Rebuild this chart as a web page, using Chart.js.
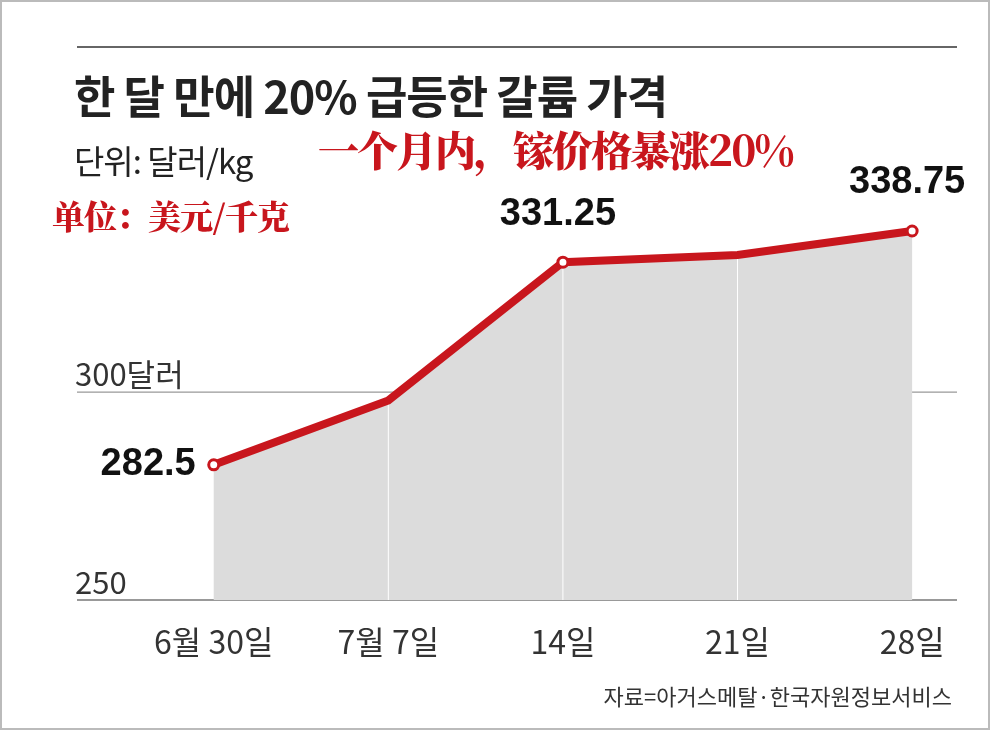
<!DOCTYPE html>
<html><head><meta charset="utf-8">
<script src="https://cdn.jsdelivr.net/npm/chart.js@4"></script>
<style>
body{margin:0;background:#fff;}
#wrap{position:relative;width:990px;height:730px;box-sizing:border-box;border:2px solid #bbb;}
canvas{position:absolute;left:0;top:0;}
.t{position:absolute;white-space:nowrap;font-family:"Noto Sans CJK KR",sans-serif;color:#222;line-height:1;}
.r{position:absolute;white-space:nowrap;font-family:"Noto Serif CJK SC","Noto Sans CJK SC",serif;color:#c8161d;font-weight:900;line-height:1;}
</style></head><body>
<div id="wrap">
<canvas id="c" width="990" height="730"></canvas>
<div class="t" style="left:72px;top:70px;font-size:45px;font-weight:700;letter-spacing:-1px;">한 달 만에 20% 급등한 갈륨 가격</div>
<div class="t" style="left:72px;top:142px;font-size:33px;letter-spacing:-1px;">단위: 달러/kg</div>
<div class="r" style="left:316px;top:126px;font-size:41px;letter-spacing:-2px;">一个月内，镓价格暴涨20%</div>
<div class="r" style="left:50px;top:196px;font-size:33px;letter-spacing:-1px;">单位：美元/千克</div>
<div class="t" style="right:36px;top:682px;font-size:22px;color:#333;">자료=아거스메탈·한국자원정보서비스</div>
</div>
<script>
const categories=["6월 30일","7월 7일","14일","21일","28일"];
const prices=[282.5,298,331.25,333,338.75];
const labelIdx=[0,2,4];
const yTicks=[250,300];
const yTickLabels=["250","300달러"];

const deco={id:'deco',
 beforeDatasetsDraw(ch){const c=ch.ctx,a=ch.chartArea,y=ch.scales.y,x=ch.scales.x;
  c.save();
  c.strokeStyle='#333';c.lineWidth=1.5;c.beginPath();c.moveTo(a.left,45);c.lineTo(a.right,45);c.stroke();
  yTicks.forEach((v,i)=>{const py=y.getPixelForValue(v);
   c.strokeStyle=i==0?'#777':'#999';c.lineWidth=1.3;c.beginPath();c.moveTo(a.left,py);c.lineTo(a.right,py);c.stroke();
   c.fillStyle='#333';c.font='31px "Noto Sans CJK KR"';c.textAlign='left';c.textBaseline='bottom';
   c.fillText(yTickLabels[i],a.left-2,py-2);});
  c.fillStyle='#dcdcdc';c.beginPath();
  prices.forEach((v,i)=>{const px=x.getPixelForValue(i),py=y.getPixelForValue(v);i?c.lineTo(px,py):c.moveTo(px,py);});
  c.lineTo(x.getPixelForValue(prices.length-1),y.getPixelForValue(250));c.lineTo(x.getPixelForValue(0),y.getPixelForValue(250));c.fill();
  c.strokeStyle='#fff';c.lineWidth=1;
  prices.forEach((v,i)=>{if(i==0||i==prices.length-1)return;const px=x.getPixelForValue(i);c.beginPath();c.moveTo(px,y.getPixelForValue(v));c.lineTo(px,y.getPixelForValue(250));c.stroke();});
  c.font='32px "Noto Sans CJK KR"';c.fillStyle='#333';c.textAlign='center';c.textBaseline='middle';
  categories.forEach((s,i)=>c.fillText(s,x.getPixelForValue(i),640));
  c.restore();},
 afterDatasetsDraw(ch){const c=ch.ctx,y=ch.scales.y,x=ch.scales.x;c.save();
  c.font='bold 38px "Liberation Sans Narrow","Liberation Sans"';c.fillStyle='#111';c.textBaseline='middle';
  labelIdx.forEach(i=>{const px=x.getPixelForValue(i),py=y.getPixelForValue(prices[i]);const s=String(prices[i]%1==0.5?prices[i].toFixed(1):prices[i]);
   if(i==0){c.textAlign='right';c.fillText(s,px-18,py);}else{c.textAlign='center';c.fillText(s,px-5,py-48);}});
  c.restore();}};

new Chart(document.getElementById('c'),{type:'line',
 data:{datasets:[{data:prices.map((v,i)=>({x:i,y:v})),borderColor:'#c8161d',borderWidth:8,
  pointRadius:prices.map((v,i)=>labelIdx.includes(i)?5:0),pointBackgroundColor:'#fff',pointBorderColor:'#c8161d',pointBorderWidth:3,tension:0}]},
 options:{responsive:false,animation:false,layout:{padding:{left:75,right:35,top:203,bottom:132}},
  plugins:{legend:{display:false},tooltip:{enabled:false}},
  scales:{x:{type:'linear',min:-0.783,max:4.257,display:false},y:{min:250,max:345,display:false}}},
 plugins:[deco]});
</script></body></html>
